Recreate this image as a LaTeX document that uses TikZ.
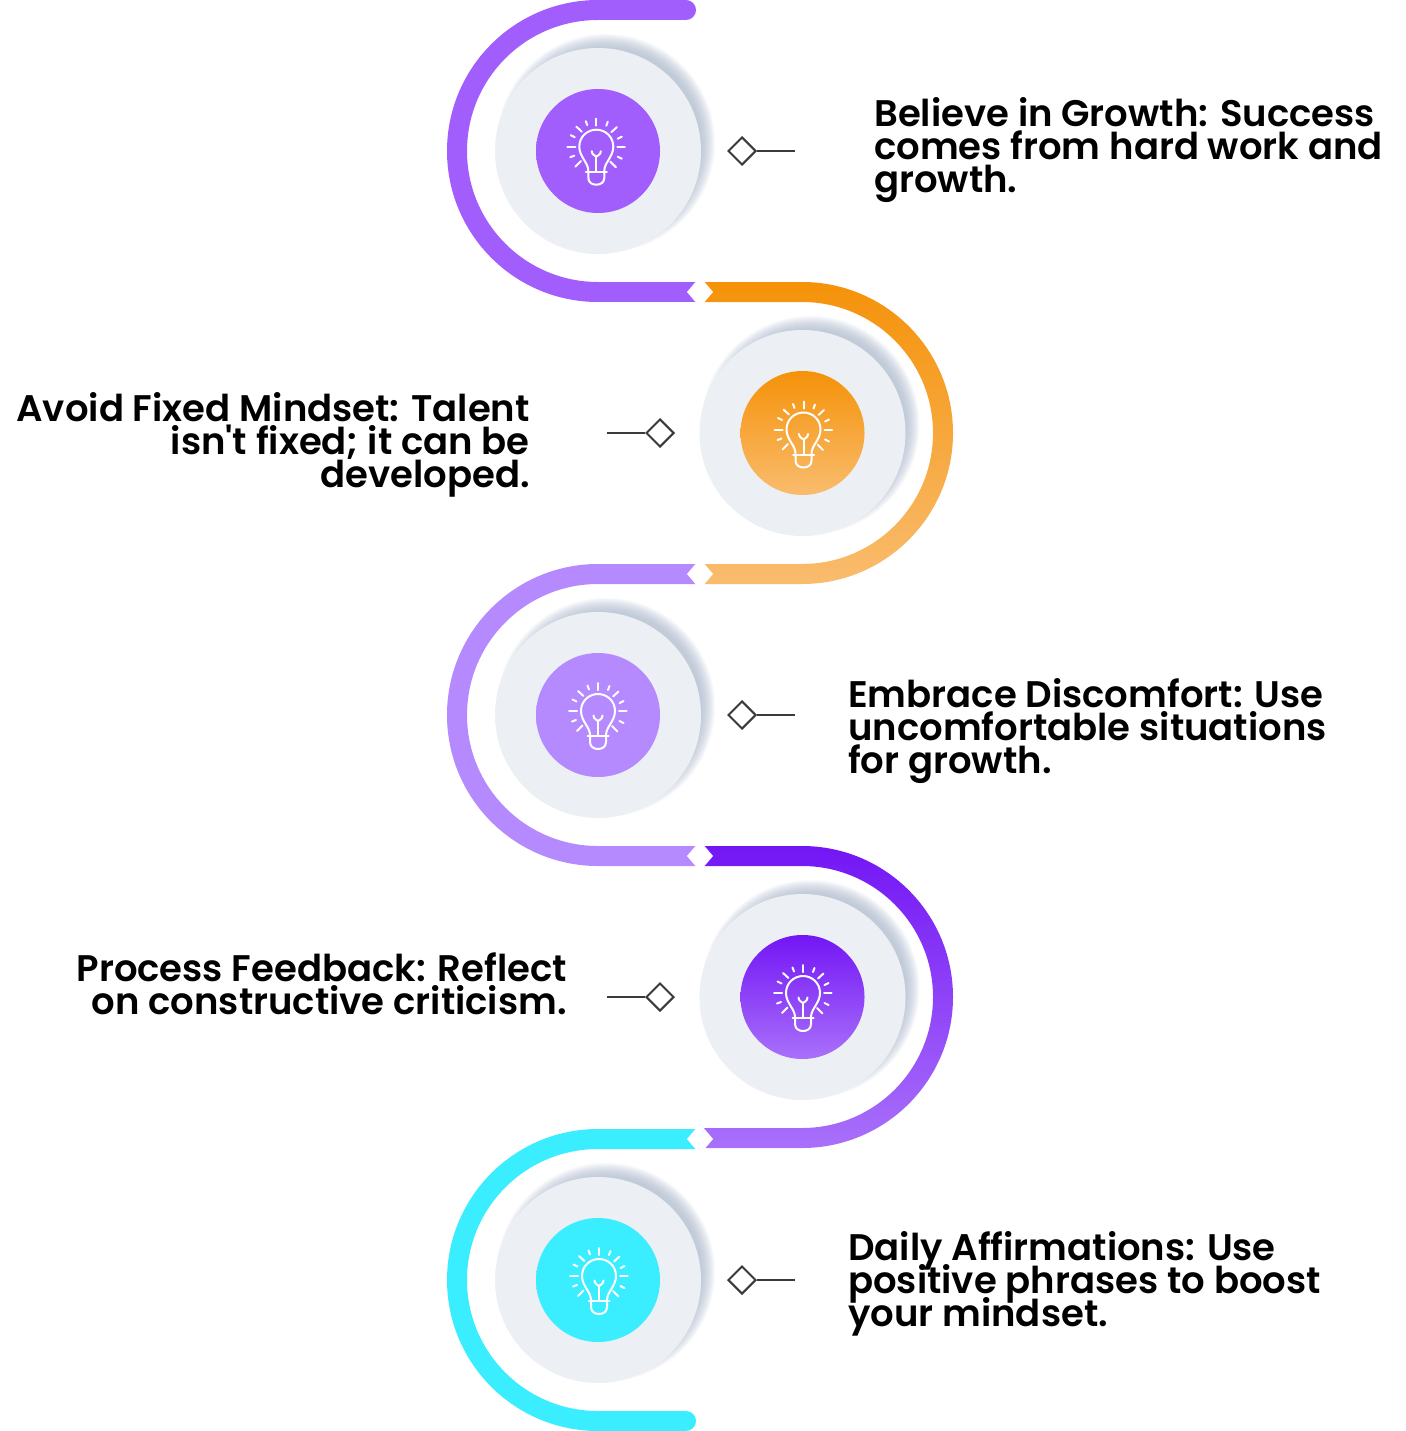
\documentclass[tikz,border=0pt]{standalone}
\usepackage{fontspec}
\newfontfamily\labelfont{Poppins SemiBold}
\newcommand{\tightlines}{\lineskiplimit=-100pt\relax}
\usetikzlibrary{shapes.geometric}
\definecolor{cpurple}{HTML}{A25EFD}
\definecolor{corangeA}{HTML}{F59209}
\definecolor{corangeB}{HTML}{F9BC6E}
\definecolor{clilac}{HTML}{B48AFE}
\definecolor{cvioletA}{HTML}{7316F5}
\definecolor{cvioletB}{HTML}{A970FA}
\definecolor{ccyan}{HTML}{3BEEFF}
\definecolor{cdisc}{HTML}{ECEFF3}
\definecolor{cshadow}{HTML}{A8B6CC}
\definecolor{cline}{HTML}{3A3A3A}
\tikzset{
  bulbline/.style={draw=white,line width=2pt,line cap=round,line join=round},
  marker/.style={diamond,draw=cline,fill=white,line width=2pt,minimum size=28pt,inner sep=0pt,aspect=1},
  leader/.style={draw=cline,line width=2pt},
  notch/.style={fill=white,draw=none},
  label/.style={inner sep=0pt,font={\labelfont\fontsize{37}{33}\selectfont\tightlines}},
  bulb/.pic={
    \path[bulbline] (-8,24) .. controls (-8,16) and (-17,10) .. (-17,0)
      .. controls (-17,-10) and (-9,-17) .. (0,-17)
      .. controls (9,-17) and (17,-10) .. (17,0)
      .. controls (17,10) and (8,16) .. (8,24);
    \path[bulbline] (-10.5,25) -- (10.5,25);
    \path[bulbline] (-8,25) -- (-8,31) .. controls (-8,36) and (-4,38) .. (0,38)
      .. controls (4,38) and (8,36) .. (8,31) -- (8,25);
    \path[bulbline] (0,25) -- (0,10);
    \path[bulbline] (-4.5,4.5) .. controls (-4.5,8) and (-1,9) .. (0,10)
      .. controls (1,9) and (4.5,8) .. (4.5,4.5);
    \foreach \a/\b/\c/\d in {0/-28/0/-21, -29/0/-21/0, 21/0/28.5/0,
      -20/-20/-14.5/-15, 20.5/-19.5/15/-14.5, -21/20/-15.5/14.5, 19.5/20.5/14/15,
      -10.5/-25.5/-9/-21.5, 11.5/-25/10/-21, -25.5/-11.5/-21.5/-9.5, 25.5/-10/21.5/-8,
      -26/10.5/-22/9, 25.5/12/21.5/10}
      \path[bulbline] (\a,\b) -- (\c,\d);
  }
}
\newcommand{\discat}[7]{% x y name shade-top shade-bottom bulbx bulby
  \foreach \r in {109,108,...,96}
    \fill[cshadow,opacity=0.07] (#1+8,#2-8) circle[radius=\r pt];
  \fill[cdisc] (#1,#2) circle[radius=103pt];
  \shade[top color=#4,bottom color=#5] (#1,#2) circle[radius=62pt];
  \pic at (#6,#7) {bulb};
}
\begin{document}
\begin{tikzpicture}[x=1pt,y=-1pt]
\useasboundingbox (0,0) rectangle (1405,1431);
\fill[white] (0,0) rectangle (1405,1431);

% rings
\draw[cpurple,line width=20pt,line cap=round] (686,10) -- (598,10) arc[start angle=90,end angle=270,radius=141pt];
\draw[cpurple,line width=20pt] (598,292) -- (700,292);
\shade[top color=corangeA,bottom color=corangeB] (700,282) -- (802,282) arc[start angle=90,end angle=-90,radius=151pt] -- (700,584) -- (700,564) -- (802,564) arc[start angle=-90,end angle=90,radius=131pt] -- (700,302) -- cycle;
\draw[clilac,line width=20pt] (700,574) -- (598,574) arc[start angle=90,end angle=270,radius=141pt] -- (700,856);
\shade[top color=cvioletA,bottom color=cvioletB] (700,846) -- (802,846) arc[start angle=90,end angle=-90,radius=151pt] -- (700,1148) -- (700,1128) -- (802,1128) arc[start angle=-90,end angle=90,radius=131pt] -- (700,866) -- cycle;
\draw[ccyan,line width=20pt] (700,1139) -- (598,1139) arc[start angle=90,end angle=270,radius=141pt];
\draw[ccyan,line width=20pt,line cap=round] (598,1421) -- (686,1421);

% notches
\foreach \y in {292,574,856,1139}
  \fill[notch] (687,\y) -- (700,\y-15.3) -- (713,\y) -- (700,\y+15.3) -- cycle;

% discs
\discat{598}{151}{a}{cpurple}{cpurple}{596.3}{146.7}
\discat{802.5}{433}{b}{corangeA}{corangeB}{803.5}{429.5}
\discat{598}{715}{c}{clilac}{clilac}{598}{711}
\discat{802.5}{997}{d}{cvioletA}{cvioletB}{803}{993}
\discat{598}{1280}{e}{ccyan}{ccyan}{599}{1276}

% markers
\node[marker] (m1) at (742,151) {};
\coordinate (e1) at (795,151);
\draw[leader] (m1.east) -- (e1);
\node[marker] (m2) at (660,433) {};
\coordinate (e2) at (607,433);
\draw[leader] (m2.west) -- (e2);
\node[marker] (m3) at (742,715) {};
\coordinate (e3) at (795,715);
\draw[leader] (m3.east) -- (e3);
\node[marker] (m4) at (660,997) {};
\coordinate (e4) at (607,997);
\draw[leader] (m4.west) -- (e4);
\node[marker] (m5) at (742,1280) {};
\coordinate (e5) at (795,1280);
\draw[leader] (m5.east) -- (e5);

% labels
\node[label,align=left,anchor=base west] (t1) at (874,193) {Believe in Growth: Success\\comes from hard work and\\growth.};
\node[label,align=right,anchor=base east] (t2) at (530,487) {Avoid Fixed Mindset: Talent\\isn't fixed; it can be\\developed.};
\node[label,align=left,anchor=base west] (t3) at (848,773) {Embrace Discomfort: Use\\uncomfortable situations\\for growth.};
\node[label,align=right,anchor=base east] (t4) at (567,1014) {Process Feedback: Reflect\\on constructive criticism.};
\node[label,align=left,anchor=base west] (t5) at (848,1326) {Daily Affirmations: Use\\positive phrases to boost\\your mindset.};
\end{tikzpicture}
\end{document}
